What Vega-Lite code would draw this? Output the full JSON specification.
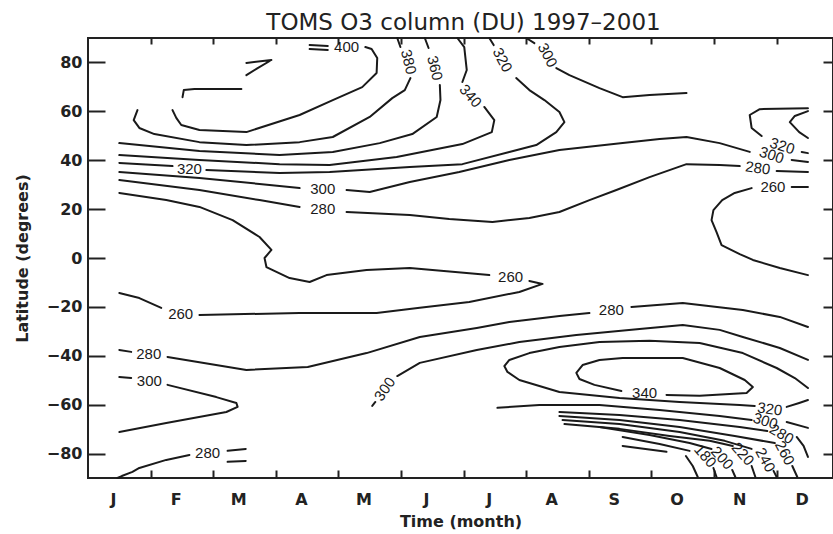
{
"$schema": "https://vega.github.io/schema/vega-lite/v6.json",
"width": 745, "height": 440,
"autosize": "none",
"padding": {"left": 88, "top": 38, "right": 0, "bottom": 56},
"background": "white",
"title": {"text": "TOMS O3 column (DU) 1997–2001", "font": "DejaVu Sans", "fontSize": 23, "fontWeight": "normal", "color": "#222", "offset": -16, "baseline": "alphabetic", "anchor": "middle", "dx": 3},
"config": {"view": {"stroke": "#222", "strokeWidth": 2}, "axis": {"grid": false, "domain": false, "tickColor": "#222", "tickWidth": 2, "labelColor": "#222", "titleColor": "#222"}},
"datasets": {
"lines": [
{"s":"a400","m":1.35,"lat":60.5},{"s":"a400","m":1.41,"lat":57.3},{"s":"a400","m":1.49,"lat":54.4},{"s":"a400","m":1.78,"lat":52.4},{"s":"a400","m":2.53,"lat":51.5},{"s":"a400","m":3.38,"lat":58.5},{"s":"a400","m":3.91,"lat":64.6},{"s":"a400","m":4.38,"lat":69.9},{"s":"a400","m":4.61,"lat":75.7},{"s":"a400","m":4.62,"lat":81.8},{"s":"a400","m":4.53,"lat":85.5},{"s":"a400","m":4.43,"lat":86.3},
{"s":"a400b","m":3.54,"lat":87.1},{"s":"a400b","m":3.83,"lat":86.7},
{"s":"a400c","m":3.54,"lat":85.5},{"s":"a400c","m":3.83,"lat":85.1},
{"s":"a420a","m":2.53,"lat":79.8},{"s":"a420a","m":2.93,"lat":81.0},{"s":"a420a","m":2.71,"lat":77.7},{"s":"a420a","m":2.53,"lat":74.8},
{"s":"a420b","m":1.51,"lat":65.8},{"s":"a420b","m":1.53,"lat":68.7},{"s":"a420b","m":1.70,"lat":69.1},{"s":"a420b","m":2.45,"lat":69.1},
{"s":"a380","m":0.79,"lat":60.5},{"s":"a380","m":0.73,"lat":56.4},{"s":"a380","m":0.82,"lat":53.2},{"s":"a380","m":1.06,"lat":50.7},{"s":"a380","m":1.78,"lat":47.4},{"s":"a380","m":2.53,"lat":46.2},{"s":"a380","m":3.38,"lat":47.4},{"s":"a380","m":3.91,"lat":49.5},{"s":"a380","m":4.50,"lat":57.7},{"s":"a380","m":4.86,"lat":65.4},{"s":"a380","m":5.06,"lat":68.7},{"s":"a380","m":5.15,"lat":73.6},
{"s":"a380t","m":4.99,"lat":86.3},{"s":"a380t","m":4.94,"lat":90},
{"s":"a360","m":0.50,"lat":47.0},{"s":"a360","m":1.78,"lat":43.8},{"s":"a360","m":3.06,"lat":42.1},{"s":"a360","m":3.91,"lat":43.4},{"s":"a360","m":4.66,"lat":47.0},{"s":"a360","m":5.18,"lat":50.7},{"s":"a360","m":5.57,"lat":57.7},{"s":"a360","m":5.63,"lat":64.6},{"s":"a360","m":5.62,"lat":70.8},
{"s":"a360t","m":5.44,"lat":85.9},{"s":"a360t","m":5.38,"lat":90},
{"s":"a340","m":0.50,"lat":42.1},{"s":"a340","m":1.78,"lat":40.1},{"s":"a340","m":3.06,"lat":38.4},{"s":"a340","m":3.86,"lat":38.0},{"s":"a340","m":4.93,"lat":41.3},{"s":"a340","m":5.98,"lat":46.6},{"s":"a340","m":6.45,"lat":51.5},{"s":"a340","m":6.49,"lat":56.4},{"s":"a340","m":6.33,"lat":61.8},
{"s":"a340t","m":5.98,"lat":72.0},{"s":"a340t","m":6.05,"lat":76.9},{"s":"a340t","m":6.01,"lat":86.3},{"s":"a340t","m":5.90,"lat":90},
{"s":"a320l","m":0.50,"lat":38.9},{"s":"a320l","m":1.35,"lat":37.6},
{"s":"a320m","m":1.89,"lat":36.0},{"s":"a320m","m":3.06,"lat":34.8},{"s":"a320m","m":3.86,"lat":35.2},{"s":"a320m","m":5.14,"lat":37.2},{"s":"a320m","m":5.98,"lat":38.4},{"s":"a320m","m":6.73,"lat":43.4},{"s":"a320m","m":7.16,"lat":46.2},{"s":"a320m","m":7.48,"lat":51.5},{"s":"a320m","m":7.61,"lat":55.6},{"s":"a320m","m":7.53,"lat":59.7},{"s":"a320m","m":7.29,"lat":64.6},{"s":"a320m","m":7.05,"lat":68.7},{"s":"a320m","m":6.84,"lat":73.6},
{"s":"a320t","m":6.48,"lat":87.1},{"s":"a320t","m":6.41,"lat":90},
{"s":"a300l","m":0.50,"lat":35.2},{"s":"a300l","m":1.78,"lat":32.7},{"s":"a300l","m":2.74,"lat":30.3},{"s":"a300l","m":3.38,"lat":28.6},
{"s":"a300m","m":4.13,"lat":27.8},{"s":"a300m","m":4.50,"lat":27.0},{"s":"a300m","m":5.14,"lat":31.1},{"s":"a300m","m":5.93,"lat":35.2},{"s":"a300m","m":6.73,"lat":40.1},{"s":"a300m","m":7.53,"lat":44.2},{"s":"a300m","m":8.54,"lat":47.0},{"s":"a300m","m":9.13,"lat":48.7},{"s":"a300m","m":9.56,"lat":49.5},{"s":"a300m","m":10.09,"lat":47.0},{"s":"a300m","m":10.57,"lat":43.4},
{"s":"a300r","m":11.24,"lat":40.1},{"s":"a300r","m":11.5,"lat":39.3},
{"s":"a280l","m":0.50,"lat":31.9},{"s":"a280l","m":1.78,"lat":27.8},{"s":"a280l","m":2.74,"lat":23.7},{"s":"a280l","m":3.38,"lat":20.9},
{"s":"a280m","m":4.13,"lat":18.8},{"s":"a280m","m":5.14,"lat":17.6},{"s":"a280m","m":5.77,"lat":16.0},{"s":"a280m","m":6.46,"lat":14.7},{"s":"a280m","m":7.05,"lat":16.4},{"s":"a280m","m":7.53,"lat":18.8},{"s":"a280m","m":8.01,"lat":23.7},{"s":"a280m","m":8.44,"lat":27.8},{"s":"a280m","m":8.97,"lat":33.1},{"s":"a280m","m":9.56,"lat":38.4},{"s":"a280m","m":10.09,"lat":38.0},{"s":"a280m","m":10.41,"lat":37.6},
{"s":"a280r","m":11.00,"lat":35.6},{"s":"a280r","m":11.5,"lat":35.2},
{"s":"a260a","m":0.50,"lat":26.6},{"s":"a260a","m":1.25,"lat":23.7},{"s":"a260a","m":1.78,"lat":20.9},{"s":"a260a","m":2.31,"lat":15.5},{"s":"a260a","m":2.74,"lat":8.6},{"s":"a260a","m":2.93,"lat":3.3},{"s":"a260a","m":2.82,"lat":0},{"s":"a260a","m":2.85,"lat":-3.7},{"s":"a260a","m":3.22,"lat":-8.2},{"s":"a260a","m":3.54,"lat":-9.8},{"s":"a260a","m":3.81,"lat":-7.0},{"s":"a260a","m":4.45,"lat":-4.9},{"s":"a260a","m":5.14,"lat":-4.1},{"s":"a260a","m":6.41,"lat":-7.0},
{"s":"a260b","m":7.05,"lat":-9.4},{"s":"a260b","m":7.26,"lat":-10.6},{"s":"a260b","m":6.89,"lat":-13.9},{"s":"a260b","m":6.09,"lat":-18.0},{"s":"a260b","m":5.30,"lat":-20.4},{"s":"a260b","m":4.61,"lat":-22.5},{"s":"a260b","m":3.38,"lat":-22.5},{"s":"a260b","m":1.78,"lat":-23.3},
{"s":"a260c","m":1.17,"lat":-20.4},{"s":"a260c","m":0.82,"lat":-16.4},{"s":"a260c","m":0.50,"lat":-14.3},
{"s":"b320a","m":11.5,"lat":61.3},{"s":"b320a","m":10.73,"lat":60.9},{"s":"b320a","m":10.57,"lat":58.5},{"s":"b320a","m":10.60,"lat":53.2},{"s":"b320a","m":10.76,"lat":49.9},
{"s":"b320b","m":11.40,"lat":43.4},{"s":"b320b","m":11.5,"lat":42.9},
{"s":"b340","m":11.5,"lat":60.1},{"s":"b340","m":11.29,"lat":58.1},{"s":"b340","m":11.21,"lat":55.6},{"s":"b340","m":11.36,"lat":51.5},{"s":"b340","m":11.5,"lat":49.1},
{"s":"b260a","m":11.5,"lat":29.0},{"s":"b260a","m":11.24,"lat":29.0},
{"s":"b260b","m":10.60,"lat":28.6},{"s":"b260b","m":10.33,"lat":26.6},{"s":"b260b","m":10.13,"lat":23.7},{"s":"b260b","m":9.99,"lat":19.6},{"s":"b260b","m":9.96,"lat":15.5},{"s":"b260b","m":10.04,"lat":10.6},{"s":"b260b","m":10.12,"lat":5.3},{"s":"b260b","m":10.41,"lat":1.6},{"s":"b260b","m":10.62,"lat":-0.8},{"s":"b260b","m":11.05,"lat":-4.1},{"s":"b260b","m":11.5,"lat":-7.0},
{"s":"t300a","m":7.00,"lat":90},{"s":"t300a","m":7.13,"lat":87.9},
{"s":"t300b","m":7.48,"lat":77.7},{"s":"t300b","m":7.69,"lat":74.8},{"s":"t300b","m":8.17,"lat":69.5},{"s":"t300b","m":8.54,"lat":65.8},{"s":"t300b","m":8.97,"lat":66.7},{"s":"t300b","m":9.56,"lat":67.5},
{"s":"c280a","m":0.50,"lat":-37.6},{"s":"c280a","m":0.69,"lat":-38.4},
{"s":"c280b","m":1.27,"lat":-40.5},{"s":"c280b","m":2.53,"lat":-45.8},{"s":"c280b","m":3.51,"lat":-44.6},{"s":"c280b","m":4.45,"lat":-38.9},{"s":"c280b","m":5.30,"lat":-32.3},{"s":"c280b","m":6.21,"lat":-28.6},{"s":"c280b","m":6.73,"lat":-26.2},{"s":"c280b","m":7.53,"lat":-23.7},{"s":"c280b","m":8.01,"lat":-22.5},
{"s":"c280c","m":8.68,"lat":-20.0},{"s":"c280c","m":9.50,"lat":-18.4},{"s":"c280c","m":10.46,"lat":-21.3},{"s":"c280c","m":11.05,"lat":-24.1},{"s":"c280c","m":11.5,"lat":-28.2},
{"s":"c300a","m":0.50,"lat":-48.7},{"s":"c300a","m":0.69,"lat":-49.1},
{"s":"c300b","m":1.27,"lat":-51.9},{"s":"c300b","m":2.05,"lat":-56.9},{"s":"c300b","m":2.37,"lat":-59.3},{"s":"c300b","m":2.39,"lat":-60.9},{"s":"c300b","m":2.21,"lat":-63.0},{"s":"c300b","m":1.25,"lat":-67.5},{"s":"c300b","m":0.50,"lat":-71.2},
{"s":"c300c","m":4.54,"lat":-60.5},{"s":"c300c","m":4.59,"lat":-58.9},
{"s":"c300d","m":4.94,"lat":-48.3},{"s":"c300d","m":5.30,"lat":-42.9},{"s":"c300d","m":6.21,"lat":-37.6},{"s":"c300d","m":6.89,"lat":-34.4},{"s":"c300d","m":7.80,"lat":-31.5},{"s":"c300d","m":8.81,"lat":-29.0},{"s":"c300d","m":9.50,"lat":-27.4},{"s":"c300d","m":10.09,"lat":-29.4},{"s":"c300d","m":10.46,"lat":-32.3},{"s":"c300d","m":11.05,"lat":-36.8},{"s":"c300d","m":11.5,"lat":-41.7},
{"s":"c280p","m":0.47,"lat":-90},{"s":"c280p","m":0.54,"lat":-89.2},{"s":"c280p","m":0.71,"lat":-87.5},{"s":"c280p","m":0.82,"lat":-85.9},{"s":"c280p","m":1.25,"lat":-82.6},{"s":"c280p","m":1.62,"lat":-80.6},
{"s":"c280q","m":2.23,"lat":-78.9},{"s":"c280q","m":2.52,"lat":-78.1},
{"s":"c260q","m":2.23,"lat":-83.4},{"s":"c260q","m":2.52,"lat":-83.0},
{"s":"c340","m":8.52,"lat":-54.4},{"s":"c340","m":8.09,"lat":-51.9},{"s":"c340","m":7.85,"lat":-49.5},{"s":"c340","m":7.80,"lat":-47.0},{"s":"c340","m":7.90,"lat":-43.8},{"s":"c340","m":8.17,"lat":-41.7},{"s":"c340","m":8.54,"lat":-40.9},{"s":"c340","m":9.50,"lat":-40.9},{"s":"c340","m":10.09,"lat":-45.0},{"s":"c340","m":10.49,"lat":-49.9},{"s":"c340","m":10.62,"lat":-52.8},{"s":"c340","m":10.52,"lat":-55.2},{"s":"c340","m":9.77,"lat":-56.4},{"s":"c340","m":9.24,"lat":-56.0},
{"s":"c320","m":11.5,"lat":-53.2},{"s":"c320","m":11.29,"lat":-49.1},{"s":"c320","m":11.00,"lat":-45.0},{"s":"c320","m":10.46,"lat":-38.9},{"s":"c320","m":9.77,"lat":-34.8},{"s":"c320","m":8.97,"lat":-33.9},{"s":"c320","m":8.17,"lat":-34.4},{"s":"c320","m":7.53,"lat":-36.4},{"s":"c320","m":7.05,"lat":-38.9},{"s":"c320","m":6.73,"lat":-41.7},{"s":"c320","m":6.65,"lat":-44.2},{"s":"c320","m":6.70,"lat":-46.6},{"s":"c320","m":6.89,"lat":-49.9},{"s":"c320","m":7.53,"lat":-54.8},{"s":"c320","m":8.49,"lat":-57.3},{"s":"c320","m":9.45,"lat":-58.9},{"s":"c320","m":10.41,"lat":-60.1},{"s":"c320","m":10.65,"lat":-60.5},
{"s":"c320r","m":11.16,"lat":-60.9},{"s":"c320r","m":11.36,"lat":-59.3},{"s":"c320r","m":11.5,"lat":-58.1},
{"s":"d300a","m":6.54,"lat":-61.3},{"s":"d300a","m":7.21,"lat":-60.1},{"s":"d300a","m":8.17,"lat":-60.1},{"s":"d300a","m":9.13,"lat":-62.2},{"s":"d300a","m":10.09,"lat":-64.6},{"s":"d300a","m":10.60,"lat":-66.3},
{"s":"d300b","m":11.16,"lat":-67.1},{"s":"d300b","m":11.5,"lat":-69.5},
{"s":"d280a","m":7.53,"lat":-63.0},{"s":"d280a","m":8.49,"lat":-64.2},{"s":"d280a","m":9.45,"lat":-66.3},{"s":"d280a","m":10.41,"lat":-69.1},{"s":"d280a","m":10.85,"lat":-70.8},
{"s":"d280b","m":11.32,"lat":-73.2},{"s":"d280b","m":11.43,"lat":-76.9},{"s":"d280b","m":11.5,"lat":-81.4},
{"s":"d260a","m":7.53,"lat":-64.6},{"s":"d260a","m":8.49,"lat":-66.3},{"s":"d260a","m":9.45,"lat":-69.1},{"s":"d260a","m":10.33,"lat":-72.8},{"s":"d260a","m":10.97,"lat":-75.7},
{"s":"d260b","m":11.25,"lat":-85.1},{"s":"d260b","m":11.33,"lat":-89.6},
{"s":"d240a","m":7.58,"lat":-66.3},{"s":"d240a","m":8.49,"lat":-67.9},{"s":"d240a","m":9.45,"lat":-71.2},{"s":"d240a","m":10.17,"lat":-74.8},{"s":"d240a","m":10.60,"lat":-78.1},
{"s":"d240b","m":10.95,"lat":-87.1},{"s":"d240b","m":11.00,"lat":-89.6},
{"s":"d220a","m":7.61,"lat":-67.9},{"s":"d220a","m":8.49,"lat":-69.9},{"s":"d220a","m":9.29,"lat":-72.8},{"s":"d220a","m":9.93,"lat":-74.8},{"s":"d220a","m":10.30,"lat":-76.9},
{"s":"d220b","m":10.60,"lat":-85.1},{"s":"d220b","m":10.66,"lat":-89.6},
{"s":"d200a","m":8.17,"lat":-69.1},{"s":"d200a","m":8.97,"lat":-72.4},{"s":"d200a","m":9.61,"lat":-75.7},{"s":"d200a","m":9.96,"lat":-78.1},
{"s":"d200b","m":10.29,"lat":-86.7},{"s":"d200b","m":10.34,"lat":-89.6},
{"s":"d180a","m":8.54,"lat":-73.2},{"s":"d180a","m":9.13,"lat":-76.1},{"s":"d180a","m":9.61,"lat":-78.9},
{"s":"d180b","m":9.99,"lat":-85.9},{"s":"d180b","m":10.04,"lat":-89.6},
{"s":"d160a","m":8.54,"lat":-76.9},{"s":"d160a","m":9.24,"lat":-79.3},
{"s":"d160b","m":9.55,"lat":-81.0},{"s":"d160b","m":9.66,"lat":-85.1},{"s":"d160b","m":9.74,"lat":-89.6}
],
"labels": [
{"t":"400","m":4.13,"lat":86.3,"g":0},{"t":"320","m":1.62,"lat":36.4,"g":0},{"t":"300","m":3.75,"lat":28.2,"g":0},{"t":"280","m":3.75,"lat":20.0,"g":0},{"t":"260","m":6.75,"lat":-7.8,"g":0},{"t":"260","m":1.48,"lat":-22.9,"g":0},{"t":"280","m":0.97,"lat":-39.3,"g":0},{"t":"300","m":0.98,"lat":-50.3,"g":0},{"t":"280","m":8.36,"lat":-21.3,"g":0},{"t":"280","m":1.91,"lat":-79.8,"g":0},{"t":"340","m":8.89,"lat":-55.2,"g":0},{"t":"260","m":10.94,"lat":29.0,"g":0},
{"t":"280","m":10.70,"lat":36.8,"g":1},{"t":"320","m":10.89,"lat":-61.8,"g":1},
{"t":"320","m":11.09,"lat":45.8,"g":2},{"t":"300","m":10.92,"lat":42.1,"g":2},{"t":"300","m":10.82,"lat":-66.7,"g":2},
{"t":"280","m":11.08,"lat":-72.0,"g":3},
{"t":"180","m":9.86,"lat":-81.0,"g":4},{"t":"200","m":10.13,"lat":-81.8,"g":4},{"t":"220","m":10.46,"lat":-80.2,"g":4},{"t":"340","m":6.11,"lat":66.3,"g":4},
{"t":"260","m":11.13,"lat":-79.8,"g":5},{"t":"240","m":10.82,"lat":-82.6,"g":5},{"t":"300","m":7.34,"lat":83.0,"g":5},{"t":"320","m":6.62,"lat":81.0,"g":5},
{"t":"380","m":5.12,"lat":80.2,"g":6},{"t":"360","m":5.54,"lat":77.7,"g":6},
{"t":"300","m":4.74,"lat":-53.6,"g":7}
]
},
"layer": [
{"data": {"name": "lines"},
 "mark": {"type": "line", "color": "#1a1a1a", "strokeWidth": 2, "strokeJoin": "round", "strokeCap": "round"},
 "encoding": {
  "x": {"field": "m", "type": "quantitative", "scale": {"domain": [0, 11.9], "nice": false, "zero": false},
        "axis": {"orient": "bottom", "values": [1,2,3,4,5,6,7,8,9,10,11], "labels": false, "tickSize": -8, "title": null}},
  "y": {"field": "lat", "type": "quantitative", "scale": {"domain": [-90, 90], "nice": false, "zero": false},
        "axis": {"orient": "left", "values": [-80,-60,-40,-20,0,20,40,60,80], "tickSize": -17, "labelPadding": 23,
                 "labelFont": "DejaVu Sans", "labelFontWeight": "bold", "labelFontSize": 16,
                 "title": "Latitude (degrees)", "titleFont": "DejaVu Sans", "titleFontWeight": "bold", "titleFontSize": 16, "titlePadding": 16}},
  "detail": {"field": "s"},
  "order": {"value": null}
 }},
{"data": {"name": "labels"}, "transform": [{"filter": "datum.g == 0"}],
 "mark": {"type": "text", "font": "Liberation Sans", "fontSize": 15, "color": "#1a1a1a", "align": "center", "baseline": "middle", "angle": 0},
 "encoding": {
  "x": {"field": "m", "type": "quantitative",
        "axis": {"orient": "bottom", "values": [0.4,1.4,2.4,3.4,4.4,5.4,6.4,7.4,8.4,9.4,10.4,11.4], "ticks": false, "labelPadding": 13,
                 "labelExpr": "['J','F','M','A','M','J','J','A','S','O','N','D'][floor(datum.value)]",
                 "labelFont": "DejaVu Sans", "labelFontWeight": "bold", "labelFontSize": 16, "labelFlush": false,
                 "title": "Time (month)", "titleFont": "DejaVu Sans", "titleFontWeight": "bold", "titleFontSize": 16, "titlePadding": 6}},
  "y": {"field": "lat", "type": "quantitative",
        "axis": {"orient": "right", "values": [-80,-60,-40,-20,0,20,40,60,80], "labels": false, "tickSize": -10, "title": null}},
  "text": {"field": "t"}
 }},
{"data": {"name": "labels"}, "transform": [{"filter": "datum.g == 1"}],
 "mark": {"type": "text", "font": "Liberation Sans", "fontSize": 15, "color": "#1a1a1a", "align": "center", "baseline": "middle", "angle": 8},
 "encoding": {
  "x": {"field": "m", "type": "quantitative",
        "axis": {"orient": "top", "values": [1,2,3,4,5,6,7,8,9,10,11], "labels": false, "tickSize": -6, "title": null}},
  "y": {"field": "lat", "type": "quantitative", "axis": null},
  "text": {"field": "t"}
 }},
{"data": {"name": "labels"}, "transform": [{"filter": "datum.g == 2"}],
 "mark": {"type": "text", "font": "Liberation Sans", "fontSize": 15, "color": "#1a1a1a", "align": "center", "baseline": "middle", "angle": 18},
 "encoding": {"x": {"field": "m", "type": "quantitative", "axis": null}, "y": {"field": "lat", "type": "quantitative", "axis": null}, "text": {"field": "t"}}},
{"data": {"name": "labels"}, "transform": [{"filter": "datum.g == 3"}],
 "mark": {"type": "text", "font": "Liberation Sans", "fontSize": 15, "color": "#1a1a1a", "align": "center", "baseline": "middle", "angle": 30},
 "encoding": {"x": {"field": "m", "type": "quantitative", "axis": null}, "y": {"field": "lat", "type": "quantitative", "axis": null}, "text": {"field": "t"}}},
{"data": {"name": "labels"}, "transform": [{"filter": "datum.g == 4"}],
 "mark": {"type": "text", "font": "Liberation Sans", "fontSize": 15, "color": "#1a1a1a", "align": "center", "baseline": "middle", "angle": 48},
 "encoding": {"x": {"field": "m", "type": "quantitative", "axis": null}, "y": {"field": "lat", "type": "quantitative", "axis": null}, "text": {"field": "t"}}},
{"data": {"name": "labels"}, "transform": [{"filter": "datum.g == 5"}],
 "mark": {"type": "text", "font": "Liberation Sans", "fontSize": 15, "color": "#1a1a1a", "align": "center", "baseline": "middle", "angle": 62},
 "encoding": {"x": {"field": "m", "type": "quantitative", "axis": null}, "y": {"field": "lat", "type": "quantitative", "axis": null}, "text": {"field": "t"}}},
{"data": {"name": "labels"}, "transform": [{"filter": "datum.g == 6"}],
 "mark": {"type": "text", "font": "Liberation Sans", "fontSize": 15, "color": "#1a1a1a", "align": "center", "baseline": "middle", "angle": 76},
 "encoding": {"x": {"field": "m", "type": "quantitative", "axis": null}, "y": {"field": "lat", "type": "quantitative", "axis": null}, "text": {"field": "t"}}},
{"data": {"name": "labels"}, "transform": [{"filter": "datum.g == 7"}],
 "mark": {"type": "text", "font": "Liberation Sans", "fontSize": 15, "color": "#1a1a1a", "align": "center", "baseline": "middle", "angle": -55},
 "encoding": {"x": {"field": "m", "type": "quantitative", "axis": null}, "y": {"field": "lat", "type": "quantitative", "axis": null}, "text": {"field": "t"}}}
],
"resolve": {"axis": {"x": "independent", "y": "independent"}}
}
